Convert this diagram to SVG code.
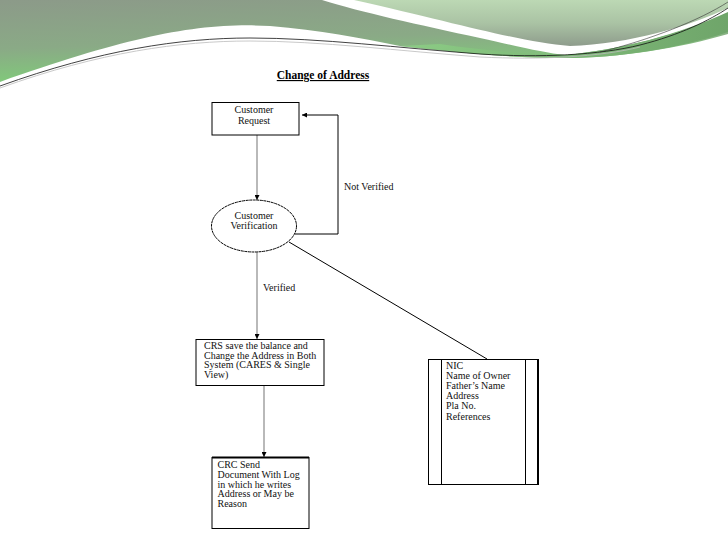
<svg xmlns="http://www.w3.org/2000/svg" width="728" height="546" viewBox="0 0 728 546">
<defs>
<linearGradient id="gLeft" x1="0" y1="0" x2="0.3" y2="1">
<stop offset="0" stop-color="#8c9a89"/>
<stop offset="0.55" stop-color="#8aaa86"/>
<stop offset="1" stop-color="#7fcf78"/>
</linearGradient>
<linearGradient id="gLens" x1="0" y1="0" x2="0" y2="1">
<stop offset="0" stop-color="#bcd8b4"/>
<stop offset="0.5" stop-color="#aac3a4"/>
<stop offset="1" stop-color="#8e9c8c"/>
</linearGradient>
<linearGradient id="gBand" x1="0" y1="0" x2="1" y2="0">
<stop offset="0" stop-color="#8ccc85"/>
<stop offset="1" stop-color="#6fa56a"/>
</linearGradient>
<marker id="ah" viewBox="0 0 10 10" refX="10" refY="5" markerWidth="5" markerHeight="5" orient="auto" markerUnits="userSpaceOnUse">
<path d="M0,0 L10,5 L0,10 Z" fill="#000"/>
</marker>
</defs>
<style>
.t{font-family:"Liberation Serif","Times New Roman",serif;font-size:10px;fill:#111}
.box{fill:#fff;stroke:#000;stroke-width:1}
.g{stroke:#8a8a8a;stroke-width:1.2;fill:none}
.k{stroke:#000;stroke-width:1;fill:none}
</style>
<rect width="728" height="546" fill="#fff"/>
<g id="header">
<path d="M0,0 H322 C360,12 420,25 480,38 C520,47 545,53 565,55 C620,50 680,34 728,14 V34 C680,48 620,58 565,58 C500,58 440,50 400,46 C360,38 320,30 270,26 C200,22 130,36 0,82 Z" fill="url(#gLeft)"/>
<path d="M400,46 C440,50 500,58 565,58 C620,58 680,48 728,32 V12 C680,34 620,50 565,55 C530,55 480,50 440,44 Z" fill="url(#gBand)"/>
<path d="M354,0 H728 V8 C690,26 630,44 570,46 C520,42 460,24 354,0 Z" fill="url(#gLens)"/>
<path d="M0,86 C100,50 180,38 250,38 C320,38 400,48 480,54 C540,58 600,55 640,45 C680,35 710,20 728,8" fill="none" stroke="#111" stroke-width="0.8"/>
<path d="M0,88 C100,52 180,41 250,41 C320,41 400,51 480,57 C540,60 600,57 640,47" fill="none" stroke="#bbb" stroke-width="0.8"/>
<path d="M600,52 C650,40 700,20 728,2" fill="none" stroke="#333" stroke-width="0.6"/>
</g>
<text x="323" y="79" text-anchor="middle" style="font-family:'Liberation Serif','Times New Roman',serif;font-size:11.5px;font-weight:bold;text-decoration:underline" fill="#000">Change of Address</text>
<g id="connectors">
<line class="g" x1="257" y1="135" x2="257" y2="200" marker-end="url(#ah)"/>
<polyline class="k" points="295,234 338,234 338,115 302,115" stroke-width="1.3" marker-end="url(#ah)"/>
<text class="t" x="344" y="190">Not Verified</text>
<line class="k" x1="289" y1="242" x2="487" y2="359"/>
<line class="g" x1="257" y1="252" x2="257" y2="339" marker-end="url(#ah)"/>
<text class="t" x="263" y="291">Verified</text>
<line class="g" x1="264" y1="386" x2="264" y2="457" stroke-width="0.8" marker-end="url(#ah)"/>
</g>
<g id="customer-request">
<rect class="box" x="212" y="102.5" width="87" height="32.5"/>
<text class="t" x="254" y="113" text-anchor="middle">Customer</text>
<text class="t" x="254" y="123.5" text-anchor="middle">Request</text>
</g>
<g id="customer-verification">
<ellipse cx="254" cy="226" rx="42.5" ry="26" fill="#fff" stroke="#000" stroke-width="1" stroke-dasharray="3,0.6"/>
<text class="t" x="254" y="218.5" text-anchor="middle">Customer</text>
<text class="t" x="254" y="228.5" text-anchor="middle">Verification</text>
</g>
<g id="crs">
<rect class="box" x="196" y="339.5" width="128" height="46"/>
<text class="t" x="204" y="349">CRS save the balance and</text>
<text class="t" x="204" y="358.7">Change the Address in Both</text>
<text class="t" x="204" y="368.4">System (CARES &amp; Single</text>
<text class="t" x="204" y="378.1">View)</text>
</g>
<g id="crc">
<rect class="box" x="212" y="457.5" width="97" height="71"/>
<line x1="212" y1="457.5" x2="309" y2="457.5" stroke="#000" stroke-width="2"/>
<text class="t" x="217.5" y="468.3">CRC Send</text>
<text class="t" x="217.5" y="478">Document With Log</text>
<text class="t" x="217.5" y="487.7">in which he writes</text>
<text class="t" x="217.5" y="497.4">Address or May be</text>
<text class="t" x="217.5" y="507.1">Reason</text>
</g>
<g id="nic">
<rect class="box" x="428.5" y="359.5" width="110" height="125"/>
<line x1="538" y1="359.5" x2="538" y2="484.5" stroke="#000" stroke-width="2"/>
<line x1="441.5" y1="359.5" x2="441.5" y2="484.5" stroke="#000" stroke-width="1"/>
<line x1="525.5" y1="359.5" x2="525.5" y2="484.5" stroke="#000" stroke-width="1"/>
<text class="t" x="446" y="368.5">NIC</text>
<text class="t" x="446" y="378.7">Name of Owner</text>
<text class="t" x="446" y="388.9">Father’s Name</text>
<text class="t" x="446" y="399.1">Address</text>
<text class="t" x="446" y="409.3">Pla No.</text>
<text class="t" x="446" y="419.5">References</text>
</g>
</svg>
